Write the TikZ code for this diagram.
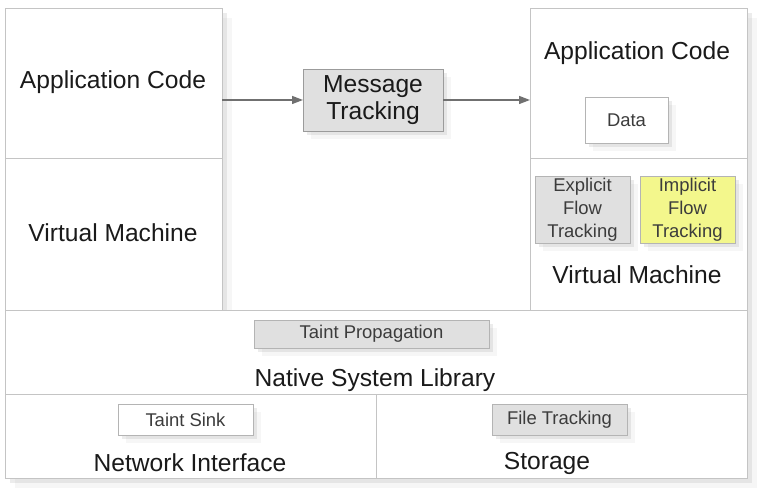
\documentclass[tikz,border=0pt]{standalone}
\usepackage{fontspec}
\setmainfont{Liberation Sans}
\usetikzlibrary{shadows,arrows.meta}
\definecolor{boxline}{HTML}{C4C4C4}
\definecolor{smallline}{HTML}{B4B4B4}
\definecolor{boxgray}{HTML}{E0E0E0}
\definecolor{boxyellow}{HTML}{F3F78C}
\definecolor{textdark}{HTML}{1A1A1A}
\definecolor{arrowgray}{HTML}{707070}

\begin{document}
\begin{tikzpicture}[
    bigbox/.style={draw=boxline, fill=white, inner sep=0pt, outer sep=0pt,
      drop shadow={shadow xshift=0.2cm, shadow yshift=-0.2cm, opacity=0.07},
      drop shadow={shadow xshift=0.1cm, shadow yshift=-0.1cm, opacity=0.15}},
    smallbox/.style={draw=smallline, inner sep=0pt, outer sep=0pt, text=textdark!85,
      align=center, font=\fontsize{10.5}{13}\selectfont,
      drop shadow={shadow xshift=0.16cm, shadow yshift=-0.16cm, opacity=0.07},
      drop shadow={shadow xshift=0.08cm, shadow yshift=-0.08cm, opacity=0.15}},
    lbl/.style={text=textdark, font=\fontsize{14}{16}\selectfont, align=center}]
    \useasboundingbox (0,0) rectangle (15.26,9.88);

    % Layers
    \node[bigbox, minimum width=4.34cm, minimum height=3cm] (LApp) at (2.27,8.22) {};
    \node[bigbox, minimum width=4.34cm, minimum height=3.04cm] (LVM) at (2.27,5.2) {};
    \node[bigbox, minimum width=4.34cm, minimum height=3cm] (RApp) at (12.77,8.22) {};
    \node[bigbox, minimum width=4.34cm, minimum height=3.04cm] (RVM) at (12.77,5.2) {};
    \node[bigbox, minimum width=14.84cm, minimum height=1.68cm] (Native) at (7.52,2.84) {};
    \node[bigbox, minimum width=7.42cm, minimum height=1.68cm] (Net) at (3.81,1.16) {};
    \node[bigbox, minimum width=7.42cm, minimum height=1.68cm] (Store) at (11.23,1.16) {};

    % Layer labels
    \node[lbl] (LAppText) at (2.26,8.24) {Application Code};
    \node[lbl] (LVMText) at (2.26,5.22) {Virtual Machine};
    \node[lbl] (RAppText) at (12.74,8.82) {Application Code};
    \node[lbl] (RVMText) at (12.74,4.38) {Virtual Machine};
    \node[lbl] (NativeText) at (7.5,2.28) {Native System Library};
    \node[lbl] (NetText) at (3.8,0.62) {Network Interface};
    \node[lbl] (StoreText) at (10.94,0.62) {Storage};

    % Tracking parts
    \node[smallbox, fill=boxgray, draw=arrowgray!70, text=textdark, font=\fontsize{14}{15.5}\selectfont,
      minimum width=2.8cm, minimum height=1.24cm] (Msg) at (7.46,7.88) {Message\\Tracking};
    \node[smallbox, fill=white, minimum width=1.66cm, minimum height=0.92cm] (Data) at (12.53,7.48) {Data};
    \node[smallbox, fill=boxgray, minimum width=1.9cm, minimum height=1.34cm] (Explicit) at (11.65,5.69) {Explicit\\Flow\\Tracking};
    \node[smallbox, fill=boxyellow, minimum width=1.9cm, minimum height=1.34cm] (Implicit) at (13.75,5.69) {Implicit\\Flow\\Tracking};
    \node[smallbox, fill=boxgray, minimum width=4.7cm, minimum height=0.56cm] (Prop) at (7.43,3.2) {Taint Propagation};
    \node[smallbox, fill=white, minimum width=2.7cm, minimum height=0.62cm] (Sink) at (3.71,1.49) {Taint Sink};
    \node[smallbox, fill=boxgray, minimum width=2.7cm, minimum height=0.62cm] (File) at (11.19,1.49) {File Tracking};

    % Arrows
    \draw[-{Triangle[length=0.22cm, width=0.16cm]}, arrowgray, line width=0.8pt] (LApp.east |- Msg.west) -- (Msg.west);
    \draw[-{Triangle[length=0.22cm, width=0.16cm]}, arrowgray, line width=0.8pt] (Msg.east) -- (RApp.west |- Msg.east);
\end{tikzpicture}
\end{document}
